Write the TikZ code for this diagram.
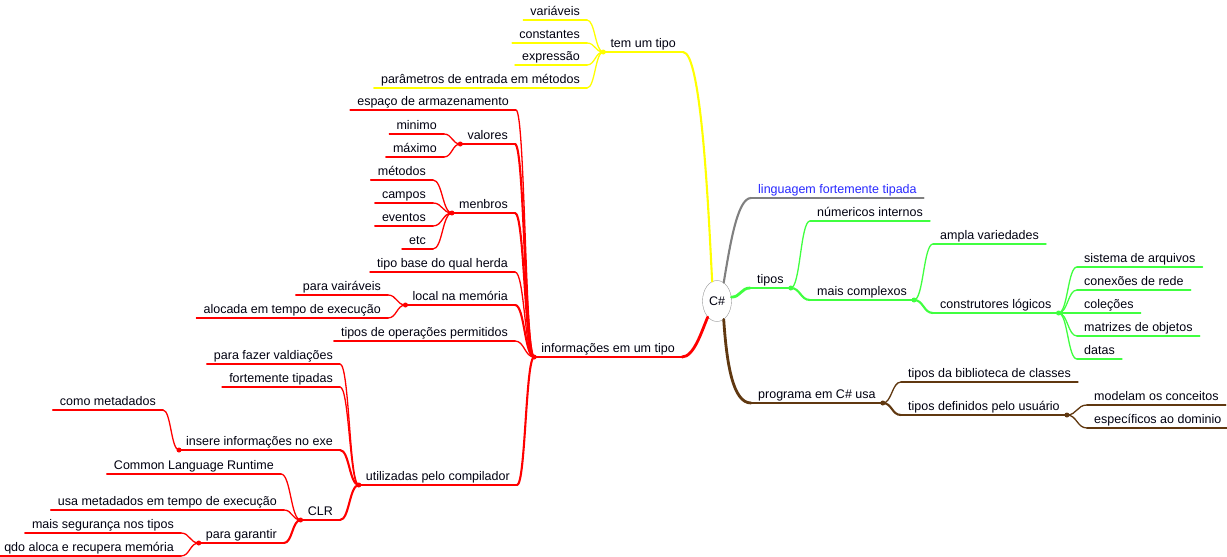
\documentclass[tikz,border=0pt]{standalone}
\usepackage{fontspec}
\setmainfont{Liberation Sans}
\usetikzlibrary{shapes.geometric,calc}
\definecolor{cyel}{RGB}{255,255,0}
\definecolor{cgray}{RGB}{128,128,128}
\definecolor{cgreen}{RGB}{64,255,64}
\definecolor{cred}{RGB}{255,0,0}
\definecolor{cbrown}{RGB}{96,56,16}
\definecolor{cblue}{RGB}{40,40,255}
\definecolor{ctext}{RGB}{0,0,16}
\definecolor{cedge}{RGB}{150,150,150}
\begin{document}
\begin{tikzpicture}[x=1pt,y=-1pt,line cap=round,
  lbl/.style={font=\fontsize{12.5}{15}\selectfont, text=ctext, inner xsep=7pt, inner ysep=1pt, text height=9pt, text depth=3pt},
  L/.style={lbl, anchor=south east},
  R/.style={lbl, anchor=south west},
  sc/.style={to path={let \p1=(\tikztostart), \p2=(\tikztotarget) in .. controls ({(\x1+\x2)/2},\y1) and ({(\x1+\x2)/2},\y2) .. (\tikztotarget)}},
  lf/.style={line width=1.3pt},
  hb/.style={line width=2.1pt},
  tk/.style={line width=2.8pt}]
\fill[white] (0,0) rectangle (1227,557);
\useasboundingbox (0,0) rectangle (1227,557);

% root
\node[draw=cedge, fill=white, ellipse, minimum width=29pt, minimum height=41pt, inner sep=0pt, font=\fontsize{12.5}{15}\selectfont, text=ctext] (root) at (717,301) {C\#};

% yellow branch
\node[L] (tem) at (683,52) {tem um tipo};
\node[L] (var) at (587,20) {variáveis};
\node[L] (cons) at (587,43) {constantes};
\node[L] (expr) at (587,65) {expressão};
\node[L] (par) at (587,88) {parâmetros de entrada em métodos};

% red branch
\node[L] (info) at (682,357) {informações em um tipo};
\node[L] (esp) at (516,110) {espaço de armazenamento};
\node[L] (val) at (515,144) {valores};
\node[L] (min) at (444,134) {minimo};
\node[L] (max) at (444,157) {máximo};
\node[L] (men) at (515,213) {menbros};
\node[L] (met) at (433,180) {métodos};
\node[L] (cam) at (433,203) {campos};
\node[L] (eve) at (433,226) {eventos};
\node[L] (etc) at (433,249) {etc};
\node[L] (her) at (515,272) {tipo base do qual herda};
\node[L] (loc) at (515,305) {local na memória};
\node[L] (vai) at (388,295) {para vairáveis};
\node[L] (alo) at (388,318) {alocada em tempo de execução};
\node[L] (ope) at (515,341) {tipos de operações permitidos};
\node[L] (uti) at (517,485) {utilizadas pelo compilador};
\node[L] (vald) at (340,364) {para fazer valdiações};
\node[L] (fort) at (340,387) {fortemente tipadas};
\node[L] (ins) at (340,450) {insere informações no exe};
\node[L] (meta) at (163,410) {como metadados};
\node[L] (clr) at (340,520) {CLR};
\node[L] (clrt) at (281,474) {Common Language Runtime};
\node[L] (usa) at (284,510) {usa metadados em tempo de execução};
\node[L] (gar) at (284,543) {para garantir};
\node[L] (seg) at (181,533) {mais segurança nos tipos};
\node[L] (qdo) at (181,556) {qdo aloca e recupera memória};

% gray, green, brown branches
\node[R, text=cblue] (lin) at (751,198) {linguagem fortemente tipada};
\node[R] (tip) at (750,288) {tipos};
\node[R] (num) at (810,221) {númericos internos};
\node[R] (mais) at (810,300) {mais complexos};
\node[R] (amp) at (933,244) {ampla variedades};
\node[R] (con) at (933,313) {construtores lógicos};
\node[R] (sis) at (1077,267) {sistema de arquivos};
\node[R] (cnx) at (1077,290) {conexões de rede};
\node[R] (col) at (1077,313) {coleções};
\node[R] (mat) at (1077,336) {matrizes de objetos};
\node[R] (dat) at (1077,359) {datas};
\node[R] (prog) at (751,403) {programa em C\# usa};
\node[R] (bib) at (901,382) {tipos da biblioteca de classes};
\node[R] (def) at (901,415) {tipos definidos pelo usuário};
\node[R] (mod) at (1087,405) {modelam os conceitos};
\node[R] (esp2) at (1087,428) {específicos ao dominio};

% trunks from root
\draw[cyel,hb] (root.104) .. controls +(-4,-80) and +(18,0) .. (tem.south east);
\draw[cgray,hb] (root.70) .. controls +(6,-35) and +(-14,0) .. (lin.south west);
\draw[cgreen,tk] (root.15) .. controls +(9,0) and +(-9,0) .. (tip.south west);
\draw[cred,tk] (root.240) .. controls +(-6,14) and +(12,0) .. (info.south east);
\draw[cbrown,tk] (root.-70) .. controls +(3,45) and +(-18,0) .. (prog.south west);

% underlines
\draw[cyel,hb] (tem.south west) -- (tem.south east);
\foreach \n in {var,cons,expr,par} \draw[cyel,lf] (\n.south west) -- (\n.south east);
\draw[cred,tk] (info.south west) -- (info.south east);
\foreach \n in {val,men,loc,uti,ins,clr,gar} \draw[cred,hb] (\n.south west) -- (\n.south east);
\foreach \n in {esp,min,max,met,cam,eve,etc,her,vai,alo,ope,vald,fort,meta,clrt,usa,seg,qdo} \draw[cred,lf] (\n.south west) -- (\n.south east);
\draw[cgray,lf] (lin.south west) -- (lin.south east);
\foreach \n in {tip,mais,con} \draw[cgreen,hb] (\n.south west) -- (\n.south east);
\foreach \n in {num,amp,sis,cnx,col,mat,dat} \draw[cgreen,lf] (\n.south west) -- (\n.south east);
\foreach \n in {prog,def} \draw[cbrown,hb] (\n.south west) -- (\n.south east);
\foreach \n in {bib,mod,esp2} \draw[cbrown,lf] (\n.south west) -- (\n.south east);

% yellow connectors
\foreach \c in {var,cons,expr,par} \draw[cyel,lf] (tem.south west) to[sc] (\c.south east);

% red connectors
\foreach \c in {esp,her,ope} \draw[cred,lf] (info.south west) to[sc] (\c.south east);
\foreach \c in {val,men,loc,uti} \draw[cred,hb] (info.south west) to[sc] (\c.south east);
\foreach \c in {min,max} \draw[cred,lf] (val.south west) to[sc] (\c.south east);
\foreach \c in {met,cam,eve,etc} \draw[cred,lf] (men.south west) to[sc] (\c.south east);
\foreach \c in {vai,alo} \draw[cred,lf] (loc.south west) to[sc] (\c.south east);
\foreach \c in {vald,fort} \draw[cred,lf] (uti.south west) to[sc] (\c.south east);
\foreach \c in {ins,clr} \draw[cred,hb] (uti.south west) to[sc] (\c.south east);
\draw[cred,lf] (ins.south west) to[sc] (meta.south east);
\foreach \c in {clrt,usa} \draw[cred,lf] (clr.south west) to[sc] (\c.south east);
\draw[cred,hb] (clr.south west) to[sc] (gar.south east);
\foreach \c in {seg,qdo} \draw[cred,lf] (gar.south west) to[sc] (\c.south east);

% green connectors
\draw[cgreen,lf] (tip.south east) to[sc] (num.south west);
\draw[cgreen,hb] (tip.south east) to[sc] (mais.south west);
\draw[cgreen,lf] (mais.south east) to[sc] (amp.south west);
\draw[cgreen,hb] (mais.south east) to[sc] (con.south west);
\foreach \c in {sis,cnx,col,mat,dat} \draw[cgreen,lf] (con.south east) to[sc] (\c.south west);

% brown connectors
\draw[cbrown,lf] (prog.south east) to[sc] (bib.south west);
\draw[cbrown,hb] (prog.south east) to[sc] (def.south west);
\foreach \c in {mod,esp2} \draw[cbrown,lf] (def.south east) to[sc] (\c.south west);

% junction blobs
\foreach \j in {tem} \fill[cyel] (\j.south west) circle (2.5pt);
\foreach \j in {info,val,men,loc,uti,ins,clr,gar} \fill[cred] (\j.south west) circle (2.5pt);
\foreach \j in {tip,mais,con} \fill[cgreen] (\j.south east) circle (2.5pt);
\foreach \j in {prog,def} \fill[cbrown] (\j.south east) circle (2.5pt);
\end{tikzpicture}
\end{document}
